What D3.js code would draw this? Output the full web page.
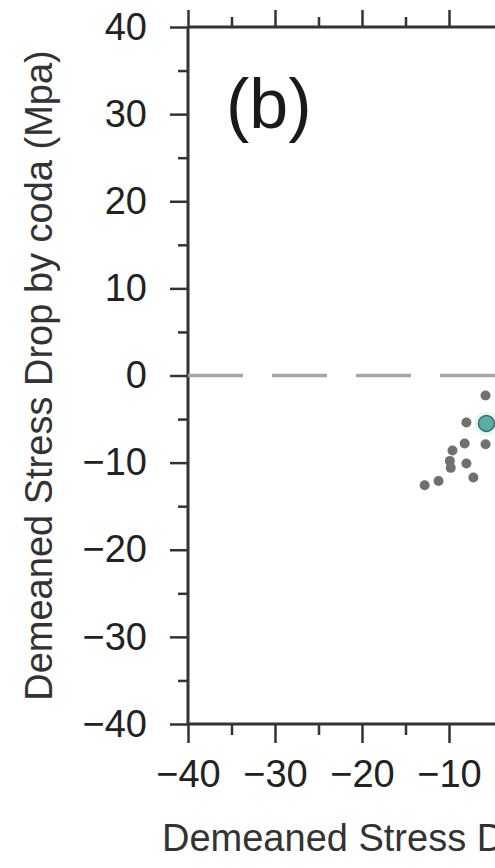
<!DOCTYPE html>
<html>
<head>
<meta charset="utf-8">
<script src="https://cdn.jsdelivr.net/npm/d3@7"></script>
<style>
  html, body { margin: 0; padding: 0; background: #fff; overflow: hidden; }
  svg { display: block; }
  text { font-family: "Liberation Sans", Arial, Helvetica, sans-serif; }
</style>
</head>
<body>
<svg id="chart" width="495" height="868"></svg>
<script>
// ---- data ----
// only the part of the x axis from -40 to about -13 is visible in the picture
const xTickValues = [-40, -30, -20, -10];
const xMinorTickValues = [-35, -25, -15];
const yTickValues = [-40, -30, -20, -10, 0, 10, 20, 30, 40];
const yMinorTickValues = [-35, -25, -15, -5, 5, 15, 25, 35];
const pointX = [-5.8, -8.0, -8.2, -5.8, -9.6, -9.9, -9.8, -8.0, -7.2, -11.2, -12.8];
const pointY = [-2.3, -5.4, -7.8, -7.9, -8.6, -9.8, -10.6, -10.1, -11.7, -12.1, -12.6];
const meanX = [-5.7];
const meanY = [-5.5];
const panelLabel = "(b)";
const xTitle = "Demeaned Stress Drop by spectral ratio (Mpa)";
const yTitle = "Demeaned Stress Drop by coda (Mpa)";

(function () {
const svg = d3.select("#chart");
const mLeft = 188, mTop = 27, mBottom = 724, unit = 8.7;
const x = d3.scaleLinear().domain([-40, 40]).range([mLeft, mLeft + 80 * unit]);
const y = d3.scaleLinear().domain([40, -40]).range([mTop, mBottom]);
const axisColor = "#333";
const fmt = d3.format("d");

function styleAxis(g) {
  g.select(".domain").remove();
  g.selectAll(".tick line").attr("stroke", axisColor).attr("stroke-width", 2.5);
  g.selectAll(".tick text").attr("fill", "#222").style("font-size", "38px")
    .style("font-family", '"Liberation Sans", Arial, Helvetica, sans-serif');
}

// left axis
svg.append("g").attr("transform", `translate(${mLeft},0)`)
  .call(d3.axisLeft(y).tickValues(yTickValues).tickSize(18).tickPadding(23).tickFormat(fmt))
  .call(styleAxis);
svg.append("g").attr("transform", `translate(${mLeft},0)`)
  .call(d3.axisLeft(y).tickValues(yMinorTickValues).tickSize(10).tickFormat(""))
  .call(styleAxis);

// bottom axis
svg.append("g").attr("transform", `translate(0,${mBottom})`)
  .call(d3.axisBottom(x).tickValues(xTickValues).tickSize(19).tickPadding(17).tickFormat(fmt))
  .call(styleAxis);
svg.append("g").attr("transform", `translate(0,${mBottom})`)
  .call(d3.axisBottom(x).tickValues(xMinorTickValues).tickSize(11).tickFormat(""))
  .call(styleAxis);

// top axis (no labels)
svg.append("g").attr("transform", `translate(0,${mTop})`)
  .call(d3.axisTop(x).tickValues(xTickValues).tickSize(17).tickFormat(""))
  .call(styleAxis);
svg.append("g").attr("transform", `translate(0,${mTop})`)
  .call(d3.axisTop(x).tickValues(xMinorTickValues).tickSize(10).tickFormat(""))
  .call(styleAxis);

// frame lines
const frame = svg.append("g").attr("stroke", axisColor).attr("stroke-width", 3);
frame.append("line").attr("x1", x(-40)).attr("x2", x(40)).attr("y1", y(40)).attr("y2", y(40));
frame.append("line").attr("x1", x(-40)).attr("x2", x(40)).attr("y1", y(-40)).attr("y2", y(-40));
frame.append("line").attr("x1", x(-40)).attr("x2", x(-40)).attr("y1", y(40)).attr("y2", y(-40));

// zero dashed line
svg.append("line")
  .attr("x1", x(-40)).attr("x2", x(40)).attr("y1", y(0)).attr("y2", y(0))
  .attr("stroke", "#a6a6a6").attr("stroke-width", 3.5)
  .attr("stroke-dasharray", "55,29");

// points
svg.append("g").selectAll("circle").data(pointX.map((v, i) => [v, pointY[i]]))
  .join("circle")
  .attr("cx", d => x(d[0])).attr("cy", d => y(d[1])).attr("r", 5)
  .attr("fill", "#707070");

// mean marker
const mean = meanX.map((v, i) => [v, meanY[i]]);
svg.append("g").selectAll("circle").data(mean).join("circle")
  .attr("cx", d => x(d[0])).attr("cy", d => y(d[1])).attr("r", 12)
  .attr("fill", "#dff4f4").attr("opacity", 0.8);
svg.append("g").selectAll("circle").data(mean).join("circle")
  .attr("cx", d => x(d[0])).attr("cy", d => y(d[1])).attr("r", 8)
  .attr("fill", "#5aaeaa").attr("stroke", "#3d6f6d").attr("stroke-width", 1.5);

// panel label
svg.append("text").attr("x", 226).attr("y", 128)
  .style("font-size", "70px").attr("fill", "#1a1a1a").text(panelLabel);

// axis titles
svg.append("text").attr("x", 162).attr("y", 851)
  .style("font-size", "38px").attr("fill", "#333").text(xTitle);
svg.append("text")
  .attr("transform", `translate(52,${y(0)}) rotate(-90)`)
  .attr("text-anchor", "middle")
  .style("font-size", "38px").attr("fill", "#333").text(yTitle);
})();
</script>
</body>
</html>
